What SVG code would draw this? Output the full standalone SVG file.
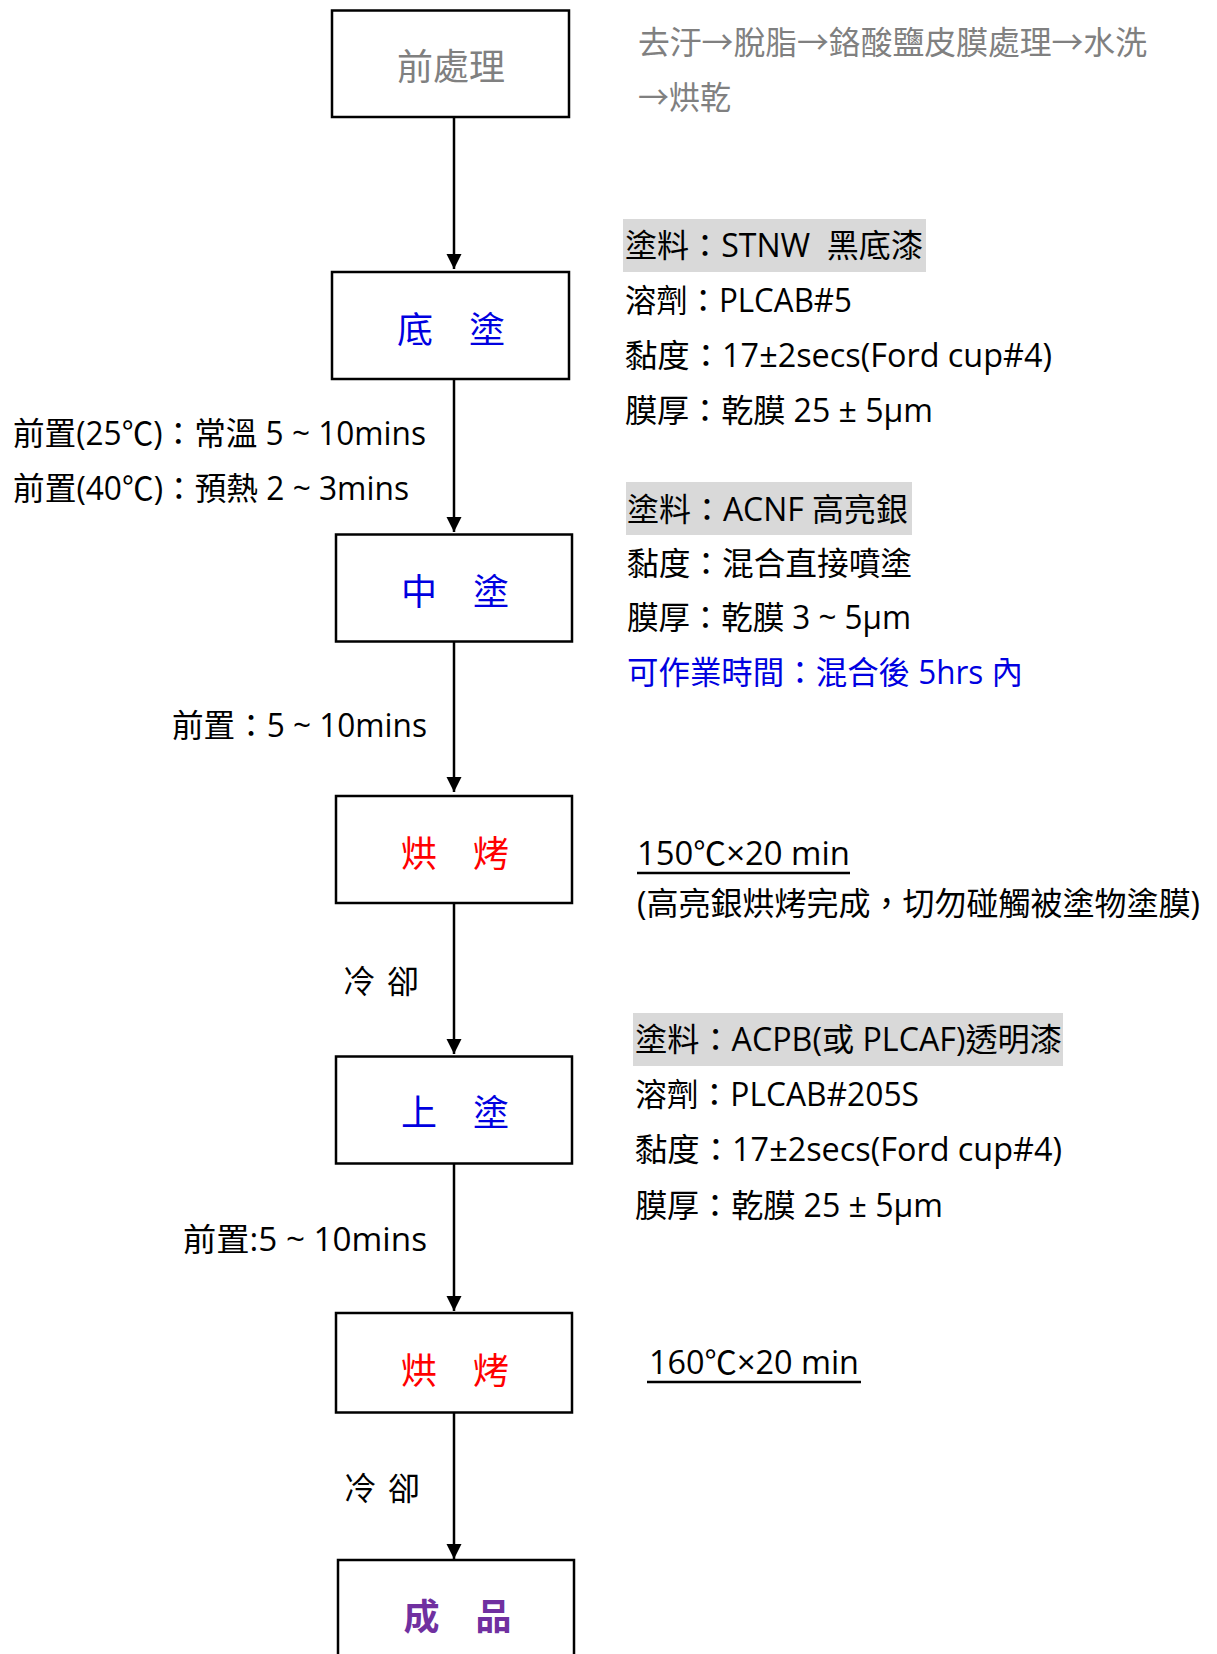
<svg xmlns="http://www.w3.org/2000/svg" width="1217" height="1654" viewBox="0 0 1217 1654">
<style>
  .box{fill:#fff;stroke:#000;stroke-width:2.5}
  .t{font-family:"Open Sans","Noto Sans CJK TC",sans-serif;font-size:32px;fill:#000}
  .bt{font-family:"Noto Sans CJK TC",sans-serif;font-size:36px}
  .gray{fill:#808080}
  .blue{fill:#0000E0}
  .red{fill:#FF0000}
  .purple{fill:#7030A0;font-weight:bold}
  .hl{fill:#D9D9D9}
  .conn{stroke:#000;stroke-width:2.5;fill:none}
  .ul{stroke:#000;stroke-width:2.5}
</style>
<defs>
  <marker id="arr" markerUnits="userSpaceOnUse" markerWidth="16" markerHeight="16" refX="15" refY="7.5" orient="auto">
    <path d="M0,0 L15,7.5 L0,15 z" fill="#000"/>
  </marker>
</defs>
<rect width="1217" height="1654" fill="#fff"/>

<g id="connectors">
  <line class="conn" x1="454" y1="117" x2="454" y2="269" marker-end="url(#arr)"/>
  <line class="conn" x1="454" y1="379" x2="454" y2="532" marker-end="url(#arr)"/>
  <line class="conn" x1="454" y1="642" x2="454" y2="792" marker-end="url(#arr)"/>
  <line class="conn" x1="454" y1="903" x2="454" y2="1054" marker-end="url(#arr)"/>
  <line class="conn" x1="454" y1="1164" x2="454" y2="1311" marker-end="url(#arr)"/>
  <line class="conn" x1="454" y1="1413" x2="454" y2="1559" marker-end="url(#arr)"/>
</g>

<g id="n_pre">
  <rect class="box" x="332" y="10.5" width="237" height="106.5"/>
  <text class="bt gray" x="451" y="80" text-anchor="middle">前處理</text>
</g>
<g id="n_base">
  <rect class="box" x="332" y="272" width="237" height="107"/>
  <text class="bt blue" x="451" y="343" text-anchor="middle">底　塗</text>
</g>
<g id="n_mid">
  <rect class="box" x="336" y="534.5" width="236" height="107"/>
  <text class="bt blue" x="455" y="605" text-anchor="middle">中　塗</text>
</g>
<g id="n_bake1">
  <rect class="box" x="336" y="796" width="236" height="107"/>
  <text class="bt red" x="455" y="867" text-anchor="middle">烘　烤</text>
</g>
<g id="n_top">
  <rect class="box" x="336" y="1056.5" width="236" height="107"/>
  <text class="bt blue" x="455" y="1126" text-anchor="middle">上　塗</text>
</g>
<g id="n_bake2">
  <rect class="box" x="336" y="1313" width="236" height="99.5"/>
  <text class="bt red" x="455" y="1384" text-anchor="middle">烘　烤</text>
</g>
<g id="n_product">
  <rect class="box" x="338" y="1560" width="236" height="110"/>
  <text class="bt purple" x="457.5" y="1630" text-anchor="middle">成　品</text>
</g>

<g id="notes_pre">
  <text class="t gray" x="638" y="54" textLength="509" lengthAdjust="spacingAndGlyphs">去汙→脫脂→鉻酸鹽皮膜處理→水洗</text>
  <text class="t gray" x="638" y="109" textLength="93" lengthAdjust="spacingAndGlyphs">→烘乾</text>
</g>

<g id="notes_base">
  <rect class="hl" x="623" y="219" width="303" height="53"/>
  <text class="t" x="625" y="257" textLength="298" lengthAdjust="spacingAndGlyphs" style="white-space:pre">塗料：STNW  黑底漆</text>
  <text class="t" x="625" y="312" textLength="227" lengthAdjust="spacingAndGlyphs">溶劑：PLCAB#5</text>
  <text class="t" x="625" y="367" textLength="427" lengthAdjust="spacingAndGlyphs">黏度：17±2secs(Ford cup#4)</text>
  <text class="t" x="625" y="422" textLength="308" lengthAdjust="spacingAndGlyphs">膜厚：乾膜 25 ± 5μm</text>
</g>

<g id="labels_left1">
  <text class="t" x="13" y="445" textLength="413" lengthAdjust="spacingAndGlyphs">前置(25℃)：常溫 5 ~ 10mins</text>
  <text class="t" x="13" y="500" textLength="396" lengthAdjust="spacingAndGlyphs">前置(40℃)：預熱 2 ~ 3mins</text>
</g>

<g id="notes_mid">
  <rect class="hl" x="626" y="482" width="286" height="53"/>
  <text class="t" x="627" y="521" textLength="281" lengthAdjust="spacingAndGlyphs">塗料：ACNF 高亮銀</text>
  <text class="t" x="627" y="575" textLength="285" lengthAdjust="spacingAndGlyphs">黏度：混合直接噴塗</text>
  <text class="t" x="627" y="629" textLength="284" lengthAdjust="spacingAndGlyphs">膜厚：乾膜 3 ~ 5μm</text>
  <text class="t blue" x="627" y="684" textLength="396" lengthAdjust="spacingAndGlyphs">可作業時間：混合後 5hrs 內</text>
</g>

<g id="label_left2">
  <text class="t" x="172" y="737" textLength="255" lengthAdjust="spacingAndGlyphs">前置：5 ~ 10mins</text>
</g>

<g id="notes_bake1">
  <text class="t" x="637" y="865" textLength="213" lengthAdjust="spacingAndGlyphs">150℃×20 min</text>
  <line class="ul" x1="637" y1="873" x2="850" y2="873"/>
  <text class="t" x="637" y="915" textLength="563" lengthAdjust="spacingAndGlyphs">(高亮銀烘烤完成，切勿碰觸被塗物塗膜)</text>
</g>

<g id="label_cool1">
  <text class="t" x="343" y="993" textLength="76" lengthAdjust="spacing">冷 卻</text>
</g>

<g id="notes_top">
  <rect class="hl" x="633" y="1013" width="430" height="53"/>
  <text class="t" x="635" y="1051" textLength="427" lengthAdjust="spacingAndGlyphs">塗料：ACPB(或 PLCAF)透明漆</text>
  <text class="t" x="635" y="1106" textLength="284" lengthAdjust="spacingAndGlyphs">溶劑：PLCAB#205S</text>
  <text class="t" x="635" y="1161" textLength="427" lengthAdjust="spacingAndGlyphs">黏度：17±2secs(Ford cup#4)</text>
  <text class="t" x="635" y="1217" textLength="308" lengthAdjust="spacingAndGlyphs">膜厚：乾膜 25 ± 5μm</text>
</g>

<g id="label_left3">
  <text class="t" x="183" y="1251" textLength="244" lengthAdjust="spacingAndGlyphs">前置:5 ~ 10mins</text>
</g>

<g id="notes_bake2">
  <text class="t" x="649" y="1374" textLength="210" lengthAdjust="spacingAndGlyphs">160℃×20 min</text>
  <line class="ul" x1="647" y1="1382" x2="861" y2="1382"/>
</g>

<g id="label_cool2">
  <text class="t" x="344" y="1500" textLength="76" lengthAdjust="spacing">冷 卻</text>
</g>
</svg>
